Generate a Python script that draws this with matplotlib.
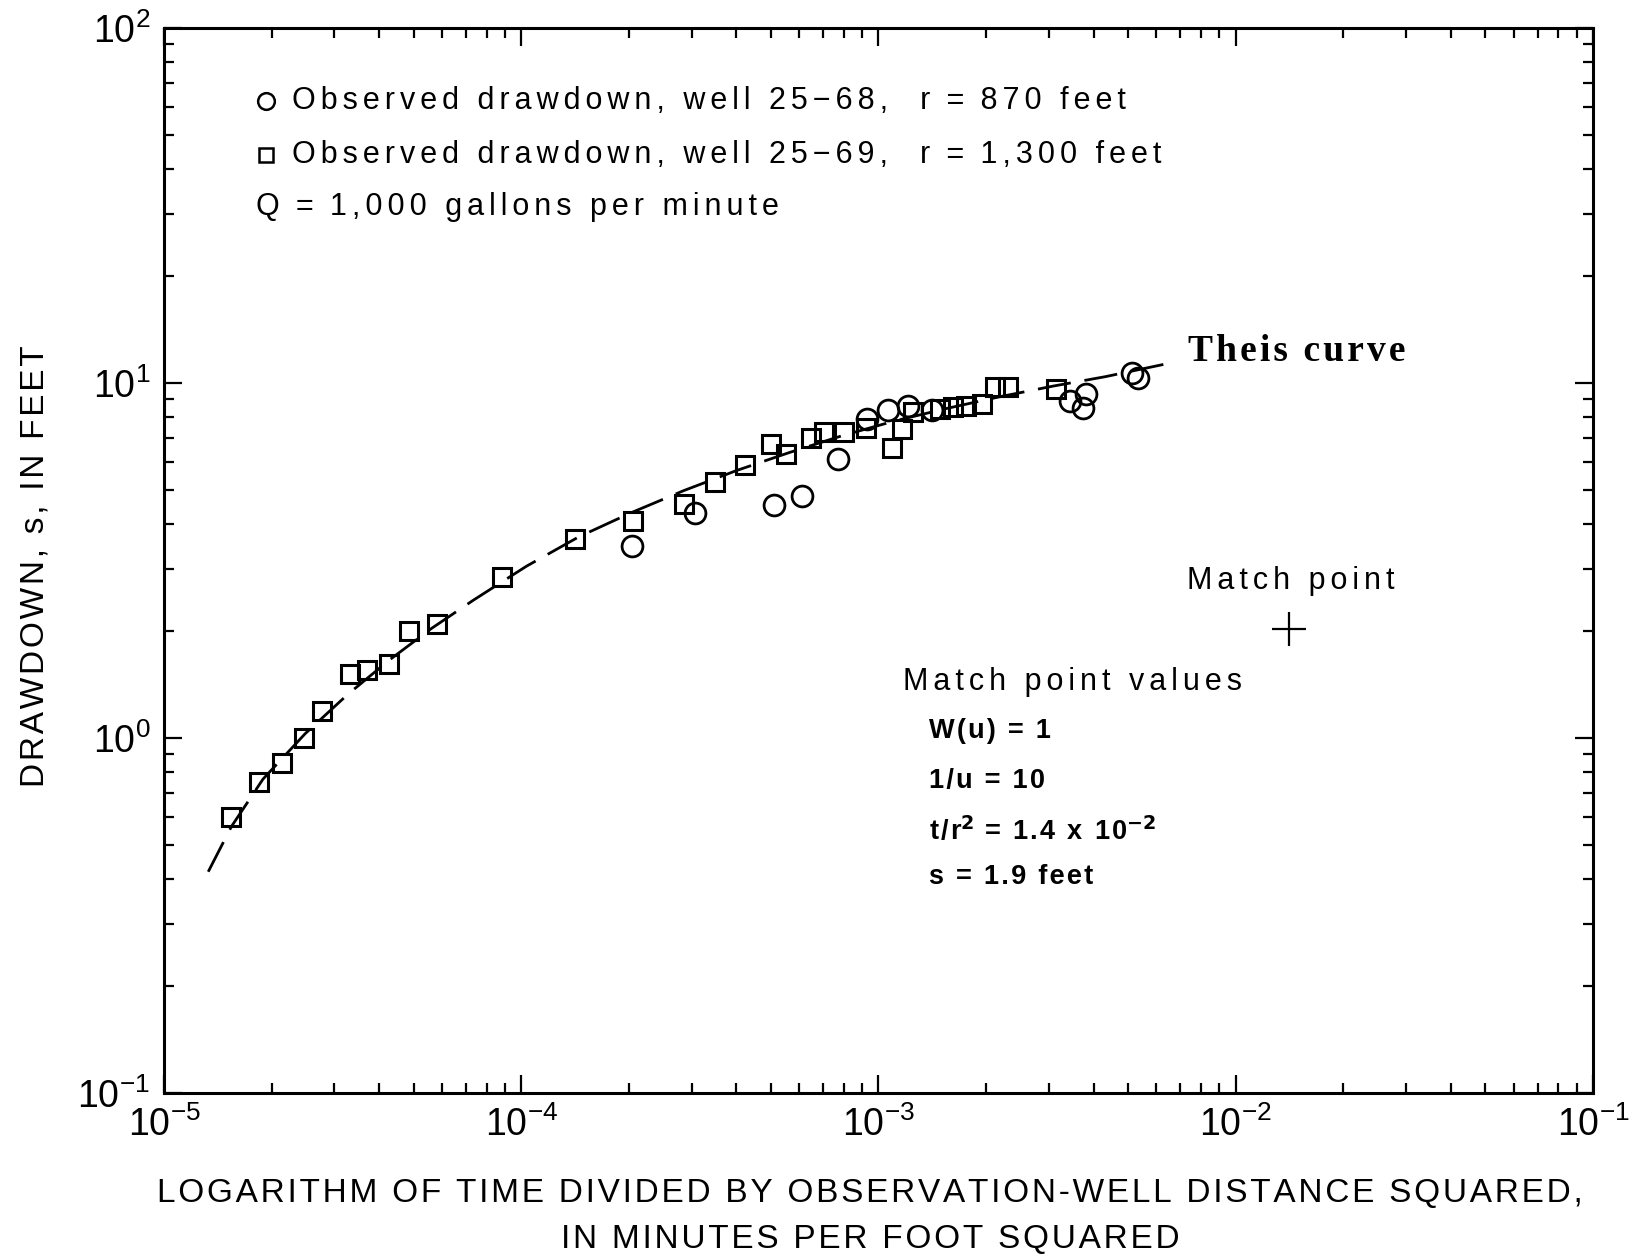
import matplotlib
matplotlib.use("Agg")
import matplotlib.pyplot as plt
import numpy as np

plt.rcParams['font.family'] = ['Liberation Sans', 'DejaVu Sans']
plt.rcParams['mathtext.default'] = 'regular'

# Theis type curve
curve_x = [1.33e-5, 1.544e-5, 1.893e-5, 2.483e-5, 3.258e-5, 4.273e-5, 5.606e-5,
           7.355e-5, 1.033e-4, 1.450e-4, 2.036e-4, 2.859e-4, 4.013e-4, 5.636e-4,
           7.912e-4, 1.111e-3, 1.560e-3, 2.190e-3, 3.075e-3, 4.317e-3, 6.358e-3]
curve_y = [0.420, 0.563, 0.766, 1.028, 1.323, 1.658, 2.035,
           2.447, 3.045, 3.688, 4.316, 4.982, 5.672, 6.372,
           7.105, 7.820, 8.488, 9.151, 9.797, 10.42, 11.31]

# well 25-69, r = 1,300 feet (squares)
sq_x = [1.54e-5, 1.84e-5, 2.14e-5, 2.47e-5, 2.77e-5, 3.32e-5, 3.70e-5, 4.27e-5,
        4.86e-5, 5.80e-5, 8.84e-5, 1.41e-4, 2.05e-4, 2.86e-4, 3.48e-4, 4.24e-4,
        4.99e-4, 5.52e-4, 6.46e-4, 7.05e-4, 8.02e-4, 9.25e-4, 1.09e-3, 1.16e-3,
        1.25e-3, 1.488e-3, 1.614e-3, 1.763e-3, 1.952e-3, 2.12e-3, 2.31e-3, 3.14e-3]
sq_y = [0.60, 0.75, 0.85, 1.0, 1.19, 1.51, 1.55, 1.62,
        2.0, 2.09, 2.85, 3.64, 4.09, 4.56, 5.26, 5.87,
        6.73, 6.33, 7.01, 7.26, 7.26, 7.45, 6.55, 7.40,
        8.26, 8.45, 8.55, 8.6, 8.7, 9.73, 9.73, 9.6]

# well 25-68, r = 870 feet (circles)
ci_x = [2.04e-4, 3.06e-4, 5.09e-4, 6.12e-4, 7.70e-4, 9.31e-4, 1.06e-3,
        1.21e-3, 1.41e-3, 3.43e-3, 3.80e-3, 3.74e-3, 5.12e-3, 5.33e-3]
ci_y = [3.47, 4.31, 4.53, 4.81, 6.11, 7.93, 8.37,
        8.6, 8.37, 8.9, 9.34, 8.49, 10.7, 10.3]

match_x = 1.41e-2
match_y = 2.03


def spaced(s, n=1):
    # the old typeset figure uses wide letter spacing
    return ('\u200a' * n).join(s)


fig = plt.figure(figsize=(16.51, 12.59), dpi=100)
ax = fig.add_axes([0.09933, 0.13185, 0.86554, 0.84591])

ax.plot(curve_x, curve_y, color='k', lw=2.0, dashes=(12, 5))
ax.plot(sq_x, sq_y, ls='none', marker='s', ms=13, mfc='none', mec='k', mew=2.2)
ax.plot(ci_x, ci_y, ls='none', marker='o', ms=15, mfc='none', mec='k', mew=2.0)
ax.plot(match_x, match_y, marker='+', ms=24, mew=1.6, color='k')

ax.set_xscale('log')
ax.set_yscale('log')
ax.set_xlim(1e-5, 1e-1)
ax.set_ylim(0.1, 100)

for s in ax.spines.values():
    s.set_linewidth(2.2)
ax.tick_params(which='both', direction='in', top=True, right=True, width=1.6)
ax.tick_params(which='major', length=13, labelsize=27, pad=10)
ax.tick_params(which='minor', length=7)

# notes inside the plot
ax.plot([0.0714], [0.9314], marker='o', ms=12, mfc='none', mec='k', mew=1.8,
        transform=ax.transAxes)
ax.plot([0.0714], [0.8808], marker='s', ms=10, mfc='none', mec='k', mew=1.8,
        transform=ax.transAxes)
ax.text(0.0896, 0.9314,
        spaced('Observed drawdown, well 25\u221268,  r\u2009=\u2009870 feet', 2),
        transform=ax.transAxes, fontsize=22, va='center')
ax.text(0.0896, 0.8808,
        spaced('Observed drawdown, well 25\u221269,  r\u2009=\u20091,300 feet', 2),
        transform=ax.transAxes, fontsize=22, va='center')
ax.text(0.0644, 0.8319, spaced('Q\u2009=\u20091,000 gallons per minute', 2),
        transform=ax.transAxes, fontsize=22, va='center')

ax.text(0.7166, 0.6967, spaced('Theis curve'), transform=ax.transAxes, fontsize=27,
        family='Liberation Serif', weight='bold', va='center')
ax.text(0.7159, 0.4808, spaced('Match point', 2), transform=ax.transAxes, fontsize=22,
        va='center')
ax.text(0.5171, 0.3859, spaced('Match point values', 2), transform=ax.transAxes,
        fontsize=22, va='center')
ax.text(0.5353, 0.3399, spaced('W(u) = 1'), transform=ax.transAxes, fontsize=19.5,
        weight='bold', va='center')
ax.text(0.5353, 0.2930, spaced('1/u = 10'), transform=ax.transAxes, fontsize=19.5,
        weight='bold', va='center')
ax.text(0.5353, 0.2460,
        spaced('t/r') + r'$^{\mathbf{2}}$' + spaced(' = 1.4 x 10') + r'$^{\mathbf{-2}}$',
        transform=ax.transAxes, fontsize=19.5, weight='bold', va='center')
ax.text(0.5353, 0.2028, spaced('s = 1.9 feet'), transform=ax.transAxes, fontsize=19.5,
        weight='bold', va='center')

fig.text(0.527, 0.0524,
         spaced('LOGARITHM OF TIME DIVIDED BY OBSERVATION-WELL DISTANCE SQUARED,'),
         ha='center', va='center', fontsize=24)
fig.text(0.527, 0.0151, spaced('IN MINUTES PER FOOT SQUARED'), ha='center',
         va='center', fontsize=24)
fig.text(0.0212, 0.5504, spaced('DRAWDOWN, s, IN FEET'), rotation=90, ha='center',
         va='center', fontsize=24)

fig.savefig('out.png', dpi=100)
